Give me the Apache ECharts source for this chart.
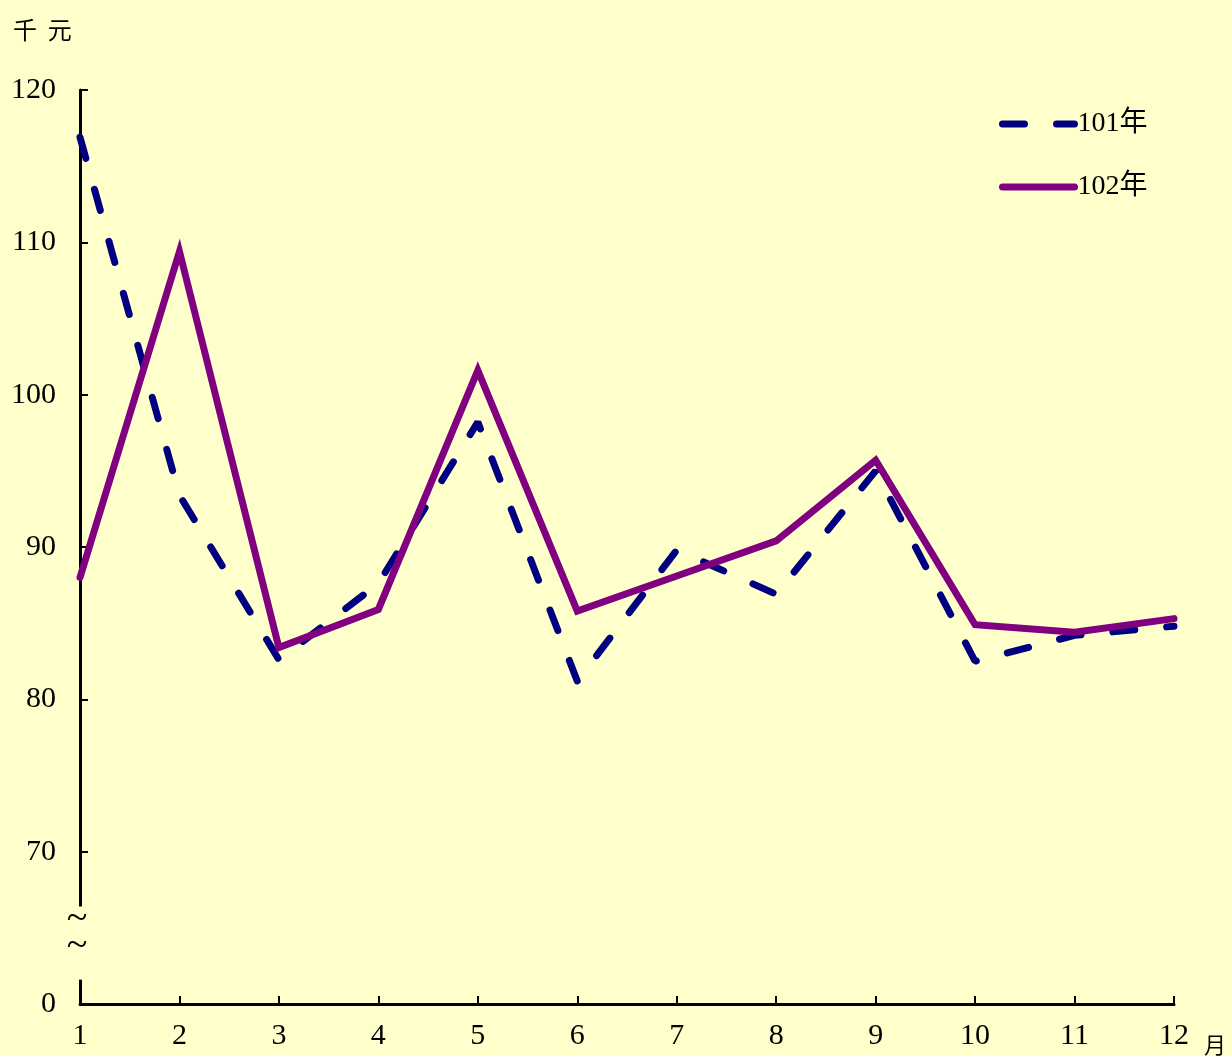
<!DOCTYPE html>
<html>
<head>
<meta charset="utf-8">
<script src="https://cdn.jsdelivr.net/npm/echarts@6/dist/echarts.min.js"></script>
<style>
html,body{margin:0;padding:0;background:#FFFFCC;}
#c{width:1232px;height:1056px;}
</style>
</head>
<body>
<div id="c"></div>
<script>
var months = ['1','2','3','4','5','6','7','8','9','10','11','12'];
var seriesNames = ['101年','102年'];
var y101 = [116.9, 93.4, 82.6, 87.6, 98.2, 81.2, 89.8, 86.9, 95.0, 82.5, 84.2, 84.8];
var y102 = [88.0, 109.4, 83.4, 85.9, 101.6, 85.8, 88.1, 90.4, 95.7, 84.9, 84.4, 85.3];
var yTicks = [60, 70, 80, 90, 100, 110, 120];
var yTickLabels = ['0', '70', '80', '90', '100', '110', '120'];

var serif = '"Liberation Serif", "Times New Roman", "Noto Sans CJK TC", serif';
var chart = echarts.init(document.getElementById('c'), null, {renderer: 'canvas'});
var option = {
  backgroundColor: '#FFFFCC',
  animation: false,
  title: {
    text: '千  元',
    left: 13, top: 18, padding: 0,
    textStyle: {fontFamily: '"Noto Sans CJK TC", serif', fontSize: 24, fontWeight: 'normal', color: '#000'}
  },
  legend: {
    orient: 'vertical',
    left: 994, top: 105,
    itemWidth: 72, itemHeight: 14, itemGap: 35,
    itemStyle: {opacity: 0},
    lineStyle: {width: 7, type: 'inherit', cap: 'round'},
    textStyle: {fontFamily: serif, fontSize: 28, color: '#000', padding: [0,0,0,-2]},
    data: seriesNames
  },
  grid: {left: 80, right: 58, top: 90, bottom: 50, containLabel: false},
  xAxis: {
    type: 'category',
    data: months,
    boundaryGap: false,
    name: '月',
    nameLocation: 'end',
    nameGap: 30,
    nameTextStyle: {fontFamily: '"Noto Sans CJK TC", serif', fontSize: 22, color: '#000', verticalAlign: 'top', align: 'left', padding: [30,0,0,0]},
    axisLine: {lineStyle: {color: '#000', width: 3}},
    axisTick: {inside: true, length: 8, lineStyle: {color: '#000', width: 2}},
    axisLabel: {fontFamily: serif, fontSize: 30, color: '#000', margin: 17},
    splitLine: {show: false}
  },
  yAxis: {
    type: 'value',
    min: 60, max: 120, interval: 10,
    axisLine: {show: true, lineStyle: {color: '#000', width: 3}},
    axisTick: {show: true, inside: true, length: 8, lineStyle: {color: '#000', width: 2}},
    axisLabel: {
      fontFamily: serif, fontSize: 30, color: '#000', margin: 24,
      formatter: function (v) { var i = yTicks.indexOf(v); return i >= 0 ? yTickLabels[i] : ''; }
    },
    splitLine: {show: false}
  },
  series: [
    {
      name: seriesNames[0], type: 'line', data: y101,
      symbol: 'none', showSymbol: false,
      lineStyle: {color: '#000080', width: 7, type: [22, 32], cap: 'round'},
      itemStyle: {color: '#000080'},
      z: 2
    },
    {
      name: seriesNames[1], type: 'line', data: y102,
      symbol: 'none', showSymbol: false,
      lineStyle: {color: '#800080', width: 7, type: 'solid', cap: 'round', join: 'miter'},
      itemStyle: {color: '#800080'},
      z: 3
    }
  ]
};
chart.setOption(option);

// axis break marker
var x0 = chart.convertToPixel({xAxisIndex: 0}, 0);
var gTop = chart.convertToPixel({yAxisIndex: 0}, 66.4);
var gBot = chart.convertToPixel({yAxisIndex: 0}, 61.6);
var t1 = chart.convertToPixel({yAxisIndex: 0}, 65.6);
var t2 = chart.convertToPixel({yAxisIndex: 0}, 63.8);
chart.setOption({
  graphic: [
    {type: 'rect', shape: {x: x0 - 4, y: gTop, width: 8, height: gBot - gTop}, style: {fill: '#FFFFCC'}, z: 100},
    {type: 'text', x: x0 - 3, y: t1, style: {text: '~', font: '38px "Liberation Serif", serif', fill: '#000', align: 'center', verticalAlign: 'middle'}, z: 101},
    {type: 'text', x: x0 - 3, y: t2, style: {text: '~', font: '38px "Liberation Serif", serif', fill: '#000', align: 'center', verticalAlign: 'middle'}, z: 101}
  ]
});
</script>
</body>
</html>
